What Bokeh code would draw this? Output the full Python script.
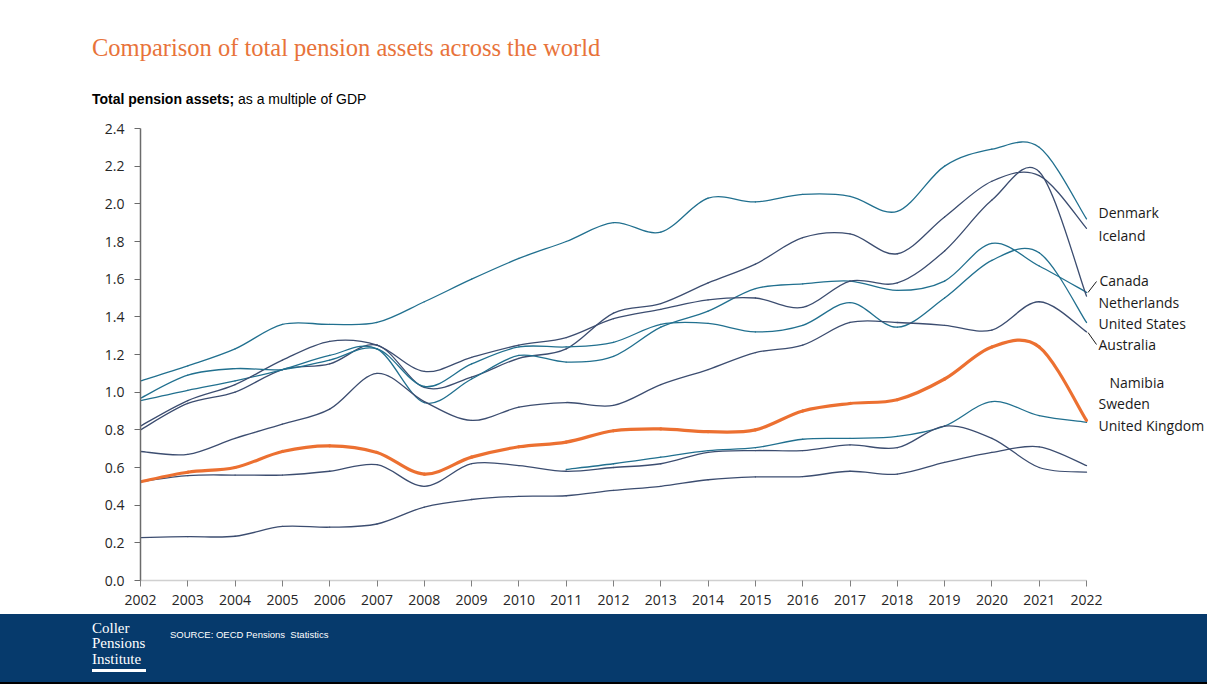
from bokeh.plotting import figure
from bokeh.models import Range1d, FixedTicker, NumeralTickFormatter, Label, Arrow, Div
from bokeh.layouts import column
from bokeh.embed import file_html
from bokeh.resources import INLINE

# ---------------- data ----------------
years = list(range(2002, 2023))
y_ticks = [0.0, 0.2, 0.4, 0.6, 0.8, 1.0, 1.2, 1.4, 1.6, 1.8, 2.0, 2.2, 2.4]

denmark = [1.06, 1.14, 1.23, 1.36, 1.36, 1.37, 1.48, 1.60, 1.71, 1.80, 1.90,
           1.85, 2.03, 2.01, 2.05, 2.04, 1.96, 2.20, 2.29, 2.30, 1.92]
iceland = [0.80, 0.94, 1.00, 1.12, 1.15, 1.25, 1.025, 1.08, 1.18, 1.23, 1.42,
           1.47, 1.58, 1.68, 1.82, 1.84, 1.735, 1.93, 2.12, 2.15, 1.87]
canada = [0.955, 1.01, 1.06, 1.12, 1.195, 1.23, 0.945, 1.07, 1.195, 1.16, 1.19,
          1.345, 1.43, 1.55, 1.575, 1.59, 1.54, 1.59, 1.79, 1.67, 1.53]
netherlands = [0.82, 0.955, 1.04, 1.17, 1.27, 1.25, 1.11, 1.185, 1.25, 1.29, 1.39,
               1.44, 1.49, 1.50, 1.45, 1.59, 1.58, 1.75, 2.02, 2.17, 1.51]
united_states = [0.968, 1.09, 1.125, 1.12, 1.17, 1.23, 1.03, 1.15, 1.24, 1.24, 1.265,
                 1.36, 1.365, 1.32, 1.355, 1.475, 1.345, 1.50, 1.70, 1.74, 1.37]
australia = [0.685, 0.67, 0.755, 0.83, 0.91, 1.10, 0.95, 0.85, 0.92, 0.945, 0.93,
             1.04, 1.12, 1.21, 1.25, 1.37, 1.37, 1.355, 1.33, 1.48, 1.32]
namibia = [0.525, 0.575, 0.60, 0.685, 0.715, 0.68, 0.565, 0.655, 0.71, 0.735, 0.795,
           0.805, 0.79, 0.80, 0.90, 0.94, 0.96, 1.07, 1.24, 1.24, 0.85]
sweden = [None, None, None, None, None, None, None, None, None, 0.59, 0.62,
          0.655, 0.69, 0.705, 0.75, 0.755, 0.765, 0.82, 0.95, 0.875, 0.84]
united_kingdom = [0.525, 0.557, 0.56, 0.56, 0.58, 0.615, 0.50, 0.62, 0.61, 0.58, 0.60,
                  0.62, 0.68, 0.69, 0.69, 0.72, 0.705, 0.82, 0.755, 0.60, 0.575]
unlabelled = [0.228, 0.233, 0.235, 0.287, 0.283, 0.30, 0.39, 0.43, 0.447, 0.45, 0.478,
              0.50, 0.535, 0.55, 0.552, 0.58, 0.565, 0.627, 0.68, 0.71, 0.61]

label_names = ["Denmark", "Iceland", "Canada", "Netherlands", "United States",
               "Australia", "Namibia", "Sweden", "United Kingdom"]

# ---------------- style ----------------
TEAL = "#21708f"
NAVY = "#3c4d70"
ORANGE = "#ec7031"
TITLE = "#e8733a"
TEXT = "#1a1a1a"
FOOTER = "#063a6c"

series = [
    (denmark, TEAL, 1.3), (iceland, NAVY, 1.3), (canada, TEAL, 1.3),
    (netherlands, NAVY, 1.3), (united_states, TEAL, 1.3), (australia, NAVY, 1.3),
    (sweden, TEAL, 1.3), (united_kingdom, NAVY, 1.3), (unlabelled, NAVY, 1.3),
    (namibia, ORANGE, 3.2),
]

W = 1207
H_HEAD = 112
H_MAIN = 614 - H_HEAD
H_FOOT = 70
LEFT = 140          # page x of the y axis
BOTTOM = 580        # page y of the x axis
PX_YEAR = 47.3
PX_UNIT = 452 / 2.4

# reference pixel -> data helpers (for text placement only)
def dx(px):
    return 2002 + (px - LEFT) / PX_YEAR

def dy(py):
    return (BOTTOM - py) / PX_UNIT


def smooth_segments(xs, ys):
    pts = [(x, y) for x, y in zip(xs, ys) if y is not None]
    n = len(pts)
    d = dict(x0=[], y0=[], x1=[], y1=[], cx0=[], cy0=[], cx1=[], cy1=[])
    for i in range(n - 1):
        p0 = pts[i - 1] if i > 0 else pts[i]
        p1 = pts[i]
        p2 = pts[i + 1]
        p3 = pts[i + 2] if i + 2 < n else pts[i + 1]
        d["x0"].append(p1[0]); d["y0"].append(p1[1])
        d["x1"].append(p2[0]); d["y1"].append(p2[1])
        d["cx0"].append(p1[0] + (p2[0] - p0[0]) / 6)
        d["cy0"].append(p1[1] + (p2[1] - p0[1]) / 6)
        d["cx1"].append(p2[0] - (p3[0] - p1[0]) / 6)
        d["cy1"].append(p2[1] - (p3[1] - p1[1]) / 6)
    return d


def word(txt, left, top, size, family, color="white", extra=""):
    return (f'<div style="position:absolute;left:{left}px;top:{top}px;font-family:{family};'
            f'font-size:{size}px;line-height:{size}px;color:{color};white-space:nowrap;{extra}">{txt}</div>')

# ---------------- header (title + subtitle) ----------------
header_html = (
    f'<div style="position:relative;width:{W}px;height:{H_HEAD}px;background:white;overflow:hidden;">'
    + word("Comparison of total pension assets across the world", 92, 35.5, 24.5,
           "'Liberation Serif'", TITLE)
    + word("<b>Total pension assets;</b> as a multiple of GDP", 92, 92, 14,
           "'Liberation Sans'", "black")
    + '</div>'
)
header = Div(text=header_html, width=W, height=H_HEAD, margin=0)

# ---------------- main chart ----------------
p = figure(width=W, height=H_MAIN,
           x_range=Range1d(2002, dx(W)), y_range=Range1d(0, dy(H_HEAD)),
           output_backend="svg", toolbar_location=None,
           min_border_left=LEFT, min_border_right=0, min_border_top=0,
           min_border_bottom=614 - BOTTOM)
p.background_fill_color = "white"
p.border_fill_color = "white"
p.outline_line_color = None
p.xgrid.visible = False
p.ygrid.visible = False

for vals, col, lw in series:
    seg = smooth_segments(years, vals)
    p.bezier(x0="x0", y0="y0", x1="x1", y1="y1", cx0="cx0", cy0="cy0", cx1="cx1", cy1="cy1",
             source=seg, line_color=col, line_width=lw, line_cap="round")

xa = p.xaxis[0]
xa.bounds = (years[0], years[-1])
xa.ticker = FixedTicker(ticks=years)
xa.minor_tick_line_color = None
xa.major_tick_in = 0
xa.major_tick_out = 6
xa.axis_line_color = "#d0d0d0"
xa.axis_line_width = 1.5
xa.major_tick_line_color = "#808080"
xa.major_label_standoff = 8
xa.major_label_text_font = "Open Sans"
xa.major_label_text_font_size = "14px"
xa.major_label_text_color = "#262626"

ya = p.yaxis[0]
ya.bounds = (y_ticks[0], y_ticks[-1])
ya.ticker = FixedTicker(ticks=y_ticks)
ya.formatter = NumeralTickFormatter(format="0.0")
ya.minor_tick_line_color = None
ya.major_tick_in = 0
ya.major_tick_out = 6
ya.axis_line_color = "#6b6b6b"
ya.axis_line_width = 1.5
ya.major_tick_line_color = "#6b6b6b"
ya.major_label_standoff = 10
ya.major_label_text_font = "Open Sans"
ya.major_label_text_font_size = "14px"
ya.major_label_text_color = "#262626"

# right-hand country labels (reference pixel positions)
label_px = [(1098, 212), (1098, 235), (1099, 280), (1098, 302), (1098, 323),
            (1098, 344), (1109, 382), (1098, 403), (1098, 425)]
for name, (lx, ly) in zip(label_names, label_px):
    p.add_layout(Label(x=dx(lx), y=dy(ly), text=name, text_font="Open Sans",
                       text_font_size="14px", text_color=TEXT, text_baseline="middle"))

# leader lines
for (sx, sy), (ex, ey) in [((1087.5, 292), (1096, 281)), ((1087.5, 332), (1096, 344))]:
    p.add_layout(Arrow(end=None, x_start=dx(sx), y_start=dy(sy), x_end=dx(ex), y_end=dy(ey),
                       line_color=TEXT, line_width=1))

# ---------------- footer ----------------
footer_html = (
    f'<div style="position:relative;width:{W}px;height:{H_FOOT}px;background:{FOOTER};'
    f'border-bottom:2px solid black;box-sizing:border-box;overflow:hidden;">'
    + word("Coller", 92, 7, 15, "'Liberation Serif'")
    + word("Pensions", 92, 22, 15, "'Liberation Serif'")
    + word("Institute", 92, 38, 15, "'Liberation Serif'")
    + '<div style="position:absolute;left:92px;top:55px;width:54px;height:3px;background:white;"></div>'
    + word("SOURCE: OECD Pensions&nbsp; Statistics", 170, 16, 9.5, "'Liberation Sans'")
    + '</div>'
)
footer = Div(text=footer_html, width=W, height=H_FOOT, margin=0)

layout = column(header, p, footer, spacing=0)
open("out.html", "w").write(file_html(layout, INLINE))
